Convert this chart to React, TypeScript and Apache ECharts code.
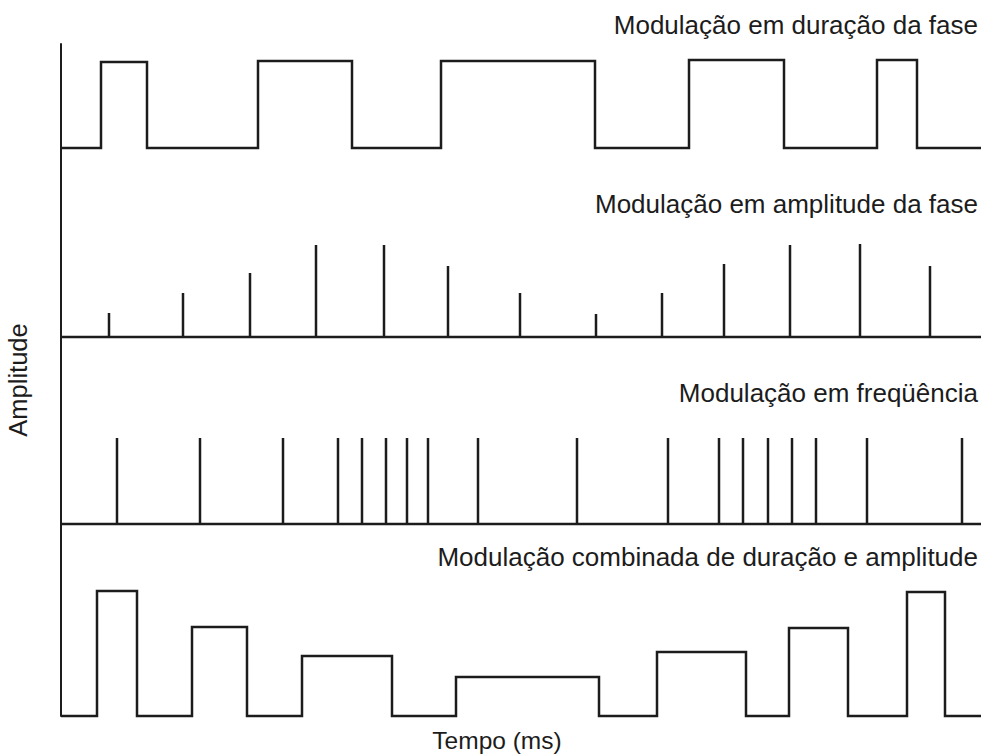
import React, { useEffect, useRef } from "react";
import * as echarts from "echarts";

// Time axis (arbitrary time units, ms) shared by all panels
const X_MAX = 920;

// Panel 1: Modulação em duração da fase (pulse start, end, amplitude)
const durStart = [40, 197, 380, 628, 816];
const durEnd = [86, 291, 534, 723, 856];
const durAmp = [86, 87, 87, 88, 88];

// Panel 2: Modulação em amplitude da fase (spike times, amplitudes)
const ampTimes = [48, 122, 189, 255, 323, 387, 459, 535, 601, 663, 729, 799, 869];
const ampValues = [24, 44, 64, 92, 92, 71, 44, 23, 44, 73, 92, 93, 71];

// Panel 3: Modulação em freqüência (spike times, constant amplitude)
const freqTimes = [56, 139, 222, 277, 301, 325, 346, 367, 417, 516, 607, 658, 682, 707, 731, 755, 806, 901];
const freqValues = freqTimes.map(() => 86);

// Panel 4: Modulação combinada de duração e amplitude
const comboStart = [36, 131, 241, 395, 596, 728, 846];
const comboEnd = [76, 186, 331, 538, 685, 787, 884];
const comboAmp = [125, 89, 60, 39, 64, 88, 124];

const titles = [
  "Modulação em duração da fase",
  "Modulação em amplitude da fase",
  "Modulação em freqüência",
  "Modulação combinada de duração e amplitude",
];

function pulses(starts: number[], ends: number[], amps: number[]) {
  const pts: number[][] = [[0, 0]];
  starts.forEach((s, i) => {
    pts.push([s, 0], [s, amps[i]], [ends[i], amps[i]], [ends[i], 0]);
  });
  pts.push([X_MAX, 0]);
  return pts;
}

function spikes(times: number[], amps: number[]) {
  const pts: number[][] = [[0, 0]];
  times.forEach((t, i) => {
    pts.push([t, 0], [t, amps[i]], [t, 0]);
  });
  pts.push([X_MAX, 0]);
  return pts;
}

const FONT = "'Liberation Sans', Arial, Helvetica, sans-serif";
const INK = "#1c1c1c";

export default function App() {
  const ref = useRef<HTMLDivElement>(null);
  useEffect(() => {
    if (!ref.current) return;
    const chart = echarts.init(ref.current, undefined, { renderer: "svg" });
    const grids = [
      { left: 61, top: 44, width: 920, height: 104 },
      { left: 61, top: 148, width: 920, height: 189 },
      { left: 61, top: 337, width: 920, height: 187 },
      { left: 61, top: 524, width: 920, height: 192 },
    ];
    const datasets = [
      pulses(durStart, durEnd, durAmp),
      spikes(ampTimes, ampValues),
      spikes(freqTimes, freqValues),
      pulses(comboStart, comboEnd, comboAmp),
    ];
    const titleY = [25, 204, 393, 557];
    chart.setOption({
      animation: false,
      backgroundColor: "#ffffff",
      grid: grids,
      xAxis: grids.map((_, i) => ({
        type: "value",
        gridIndex: i,
        min: 0,
        max: X_MAX,
        show: false,
      })),
      yAxis: grids.map((g, i) => ({
        type: "value",
        gridIndex: i,
        min: 0,
        max: g.height,
        axisLine: { show: true, lineStyle: { color: INK, width: 2 } },
        axisTick: { show: false },
        axisLabel: { show: false },
        splitLine: { show: false },
      })),
      series: datasets.map((d, i) => ({
        type: "line",
        xAxisIndex: i,
        yAxisIndex: i,
        data: d,
        showSymbol: false,
        symbol: "none",
        clip: false,
        lineStyle: { color: INK, width: 2.5, join: "miter", cap: "butt" },
        silent: true,
      })),
      graphic: [
        ...titles.map((t, i) => ({
          type: "text",
          x: 978,
          y: titleY[i],
          style: {
            text: t,
            font: `26px ${FONT}`,
            fill: INK,
            align: "right",
            verticalAlign: "middle",
          },
        })),
        {
          type: "text",
          x: 497,
          y: 740,
          style: {
            text: "Tempo (ms)",
            font: `24.5px ${FONT}`,
            fill: INK,
            align: "center",
            verticalAlign: "middle",
          },
        },
        {
          type: "text",
          x: 18,
          y: 380,
          rotation: Math.PI / 2,
          style: {
            text: "Amplitude",
            font: `25.5px ${FONT}`,
            fill: INK,
            align: "center",
            verticalAlign: "middle",
          },
        },
      ],
    });
    return () => chart.dispose();
  }, []);
  return (
    <div
      ref={ref}
      style={{ position: "fixed", left: 0, top: 0, width: 984, height: 755 }}
    />
  );
}
